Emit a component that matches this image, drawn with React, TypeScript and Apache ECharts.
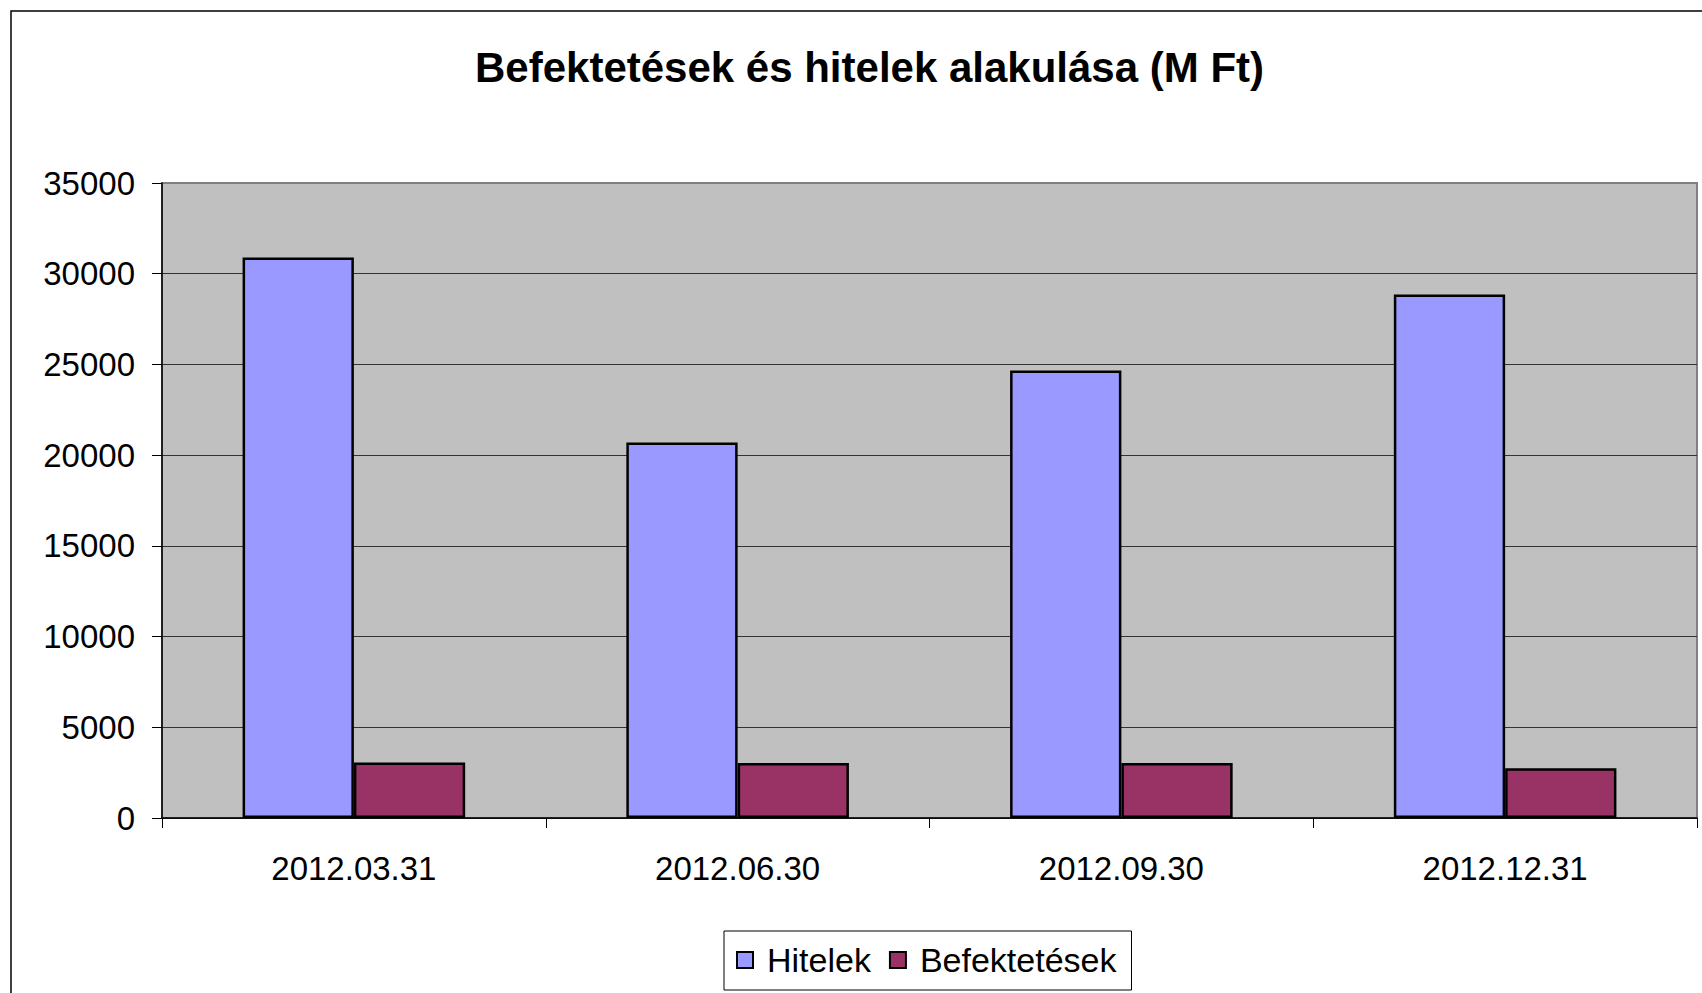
import React, { useEffect, useRef } from "react";
import * as echarts from "echarts";

const categories = ["2012.03.31", "2012.06.30", "2012.09.30", "2012.12.31"];
const hitelek = [30890, 20690, 24660, 28850];
const befektetesek = [3060, 3030, 3030, 2740];
const yTicks = [0, 5000, 10000, 15000, 20000, 25000, 30000, 35000];

const FONT = "'Liberation Sans', Arial, sans-serif";

export default function App() {
  const ref = useRef<HTMLDivElement>(null);
  useEffect(() => {
    if (!ref.current) return;
    const chart = echarts.init(ref.current, undefined, { renderer: "svg" });
    const splitColors = yTicks.map((_, i) => (i === yTicks.length - 1 ? "#808080" : "#333333"));
    chart.setOption({
      animation: false,
      backgroundColor: "#ffffff",
      textStyle: { fontFamily: FONT },
      title: {
        text: "Befektetések és hitelek alakulása (M Ft)",
        left: 470,
        top: 41,
        textStyle: { fontFamily: FONT, fontSize: 42, fontWeight: "bold", color: "#000" },
      },
      graphic: [
        {
          type: "rect",
          z: -1,
          shape: { x: 11, y: 11, width: 1800, height: 1100 },
          style: { fill: "none", stroke: "#000", lineWidth: 1.5 },
          silent: true,
        },
      ],
      legend: {
        left: 724,
        top: 931,
        orient: "horizontal",
        borderColor: "#000",
        borderWidth: 1,
        padding: [12, 15, 13, 12],
        itemWidth: 16,
        itemHeight: 16,
        itemGap: 18,
        icon: "rect",
        textStyle: { fontFamily: FONT, fontSize: 34, color: "#000", padding: [0, 0, 0, 9] },
        data: ["Hitelek", "Befektetések"],
      },
      grid: {
        left: 162,
        top: 183,
        right: 5,
        bottom: 175,
        show: true,
        backgroundColor: "#C0C0C0",
        borderColor: "#808080",
        borderWidth: 2,
      },
      xAxis: {
        type: "category",
        data: categories,
        boundaryGap: true,
        axisLine: { show: true, lineStyle: { color: "#000", width: 1.5 } },
        axisTick: { show: true, length: 10, alignWithLabel: false, lineStyle: { color: "#000" } },
        axisLabel: { fontFamily: FONT, fontSize: 33, color: "#000", margin: 34 },
        splitLine: { show: false },
      },
      yAxis: {
        type: "value",
        min: 0,
        max: 35000,
        interval: 5000,
        axisLine: { show: true, lineStyle: { color: "#000", width: 1.5 } },
        axisTick: { show: true, length: 10, lineStyle: { color: "#000" } },
        axisLabel: {
          fontFamily: FONT,
          fontSize: 33,
          color: "#000",
          margin: 27,
          formatter: (v: number) => String(v),
        },
        splitLine: { show: true, lineStyle: { color: splitColors, width: 1.2 } },
      },
      series: [
        {
          name: "Hitelek",
          type: "bar",
          data: hitelek,
          barGap: "0%",
          barCategoryGap: "42%",
          itemStyle: { color: "#9999FF", borderColor: "#000", borderWidth: 2.5 },
        },
        {
          name: "Befektetések",
          type: "bar",
          data: befektetesek,
          barGap: "0%",
          barCategoryGap: "42%",
          itemStyle: { color: "#993366", borderColor: "#000", borderWidth: 2.5 },
        },
      ],
    });
    return () => chart.dispose();
  }, []);
  return (
    <div
      ref={ref}
      style={{ position: "absolute", left: 0, top: 0, width: 1702, height: 993 }}
    />
  );
}
